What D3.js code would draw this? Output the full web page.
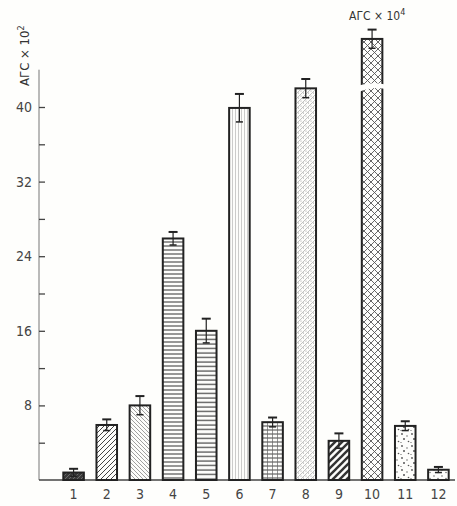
<!DOCTYPE html>
<html>
<head>
<meta charset="utf-8">
<script src="https://cdn.jsdelivr.net/npm/d3@7"></script>
<style>
  body { margin: 0; background: #fefefc; }
  svg { display: block; }
  .tick text { font-family: "DejaVu Sans Condensed", "Liberation Sans Narrow", sans-serif; font-size: 14px; fill: #444; }
  .label { font-family: "DejaVu Sans Condensed", "Liberation Sans Narrow", sans-serif; fill: #333; }
</style>
</head>
<body>
<div id="vis"></div>
<script>
var width = 457;
var height = 506;

// bar numbers, values (x10^2, bar 10 in x10^4) and error estimates
var categories = ['1', '2', '3', '4', '5', '6', '7', '8', '9', '10', '11', '12'];
var values = [0.8, 5.9, 8.0, 25.9, 16.0, 39.9, 6.2, 42.0, 4.2, 47.3, 5.8, 1.1];
var errors = [0.4, 0.6, 1.0, 0.7, 1.3, 1.5, 0.5, 1.0, 0.8, 1.0, 0.5, 0.3];
var majorTicks = [8, 16, 24, 32, 40];
var minorTicks = [4, 12, 20, 28, 36];
var breakValues = [41.6, 42.4]; // gap drawn in bar 10
var axisTop = 44; // y axis runs up to this value

var x = d3.scaleBand().domain(categories).range([57, 455]).paddingInner(0.38).paddingOuter(0.19);
var y = d3.scaleLinear().domain([0, 40]).range([480, 107]);

var svg = d3.select('#vis').append('svg')
    .attr('width', width)
    .attr('height', height);

svg.append('rect').attr('width', width).attr('height', height).attr('fill', '#fefefc');

// hatch patterns, one per bar
var defs = svg.append('defs');

function pattern(id, w, h, draw) {
  var p = defs.append('pattern')
      .attr('id', id)
      .attr('patternUnits', 'userSpaceOnUse')
      .attr('width', w)
      .attr('height', h);
  p.append('rect').attr('width', w).attr('height', h).attr('fill', '#fdfdfb');
  draw(p);
}

function line(p, x1, y1, x2, y2, sw, col) {
  p.append('line').attr('x1', x1).attr('y1', y1).attr('x2', x2).attr('y2', y2)
    .attr('stroke', col || '#333').attr('stroke-width', sw);
}

function dot(p, cx, cy, r, col) {
  p.append('circle').attr('cx', cx).attr('cy', cy).attr('r', r).attr('fill', col || '#555');
}

pattern('p1', 4, 4, function(p) {
  p.select('rect').attr('fill', '#3a3a3a');
  line(p, 0, 4, 4, 0, 0.8, '#777');
});
pattern('p2', 5, 5, function(p) {
  line(p, 0, 5, 5, 0, 1, '#444');
  line(p, -1, 1, 1, -1, 1, '#444');
  line(p, 4, 6, 6, 4, 1, '#444');
});
pattern('p3', 4, 4, function(p) {
  line(p, 0, 0, 4, 4, 0.8, '#888');
  line(p, -1, 3, 1, 5, 0.8, '#888');
  line(p, 3, -1, 5, 1, 0.8, '#888');
});
pattern('p4', 6, 4, function(p) {
  line(p, 0, 2, 6, 2, 1.1, '#444');
});
pattern('p5', 6, 4.5, function(p) {
  line(p, 0, 2, 6, 2, 1.2, '#444');
});
pattern('p6', 3, 6, function(p) {
  line(p, 1.5, 0, 1.5, 6, 0.6, '#aaa');
});
pattern('p7', 5, 4, function(p) {
  line(p, 0, 2, 5, 2, 1, '#444');
  line(p, 2.5, 0, 2.5, 4, 0.7, '#666');
});
pattern('p8', 5, 5, function(p) {
  line(p, 0, 5, 5, 0, 0.6, '#999');
  dot(p, 1, 1, 0.5, '#888');
  dot(p, 3.5, 3, 0.5, '#888');
});
pattern('p9', 7, 7, function(p) {
  line(p, 0, 7, 7, 0, 2.4, '#333');
  line(p, -2, 2, 2, -2, 2.4, '#333');
  line(p, 5, 9, 9, 5, 2.4, '#333');
});
pattern('p10', 7, 7, function(p) {
  line(p, 0, 7, 7, 0, 0.9, '#555');
  line(p, 0, 0, 7, 7, 0.9, '#555');
});
pattern('p11', 10, 12, function(p) {
  dot(p, 2, 2, 0.9);
  dot(p, 7, 4, 0.7);
  dot(p, 4, 7, 1.0);
  dot(p, 8.5, 9.5, 0.8);
  dot(p, 1, 10.5, 0.6);
});
pattern('p12', 8, 6, function(p) {
  dot(p, 2, 2, 0.7);
  dot(p, 6, 4.5, 0.7);
});

// axes
svg.append('line')
    .attr('x1', 39).attr('x2', 39)
    .attr('y1', y(axisTop)).attr('y2', y(0))
    .attr('stroke', '#777').attr('stroke-width', 1);
svg.append('line')
    .attr('x1', 39).attr('x2', 455)
    .attr('y1', y(0)).attr('y2', y(0))
    .attr('stroke', '#444').attr('stroke-width', 1.5);

var yAxis = d3.axisLeft(y).tickValues(majorTicks).tickSize(-6).tickPadding(7);
var gy = svg.append('g').attr('transform', 'translate(39,0)').call(yAxis);
gy.select('.domain').remove();
gy.selectAll('.tick line').attr('stroke', '#444').attr('stroke-width', 1.3);

var yMinor = d3.axisLeft(y).tickValues(minorTicks).tickSize(-6).tickFormat('');
var gm = svg.append('g').attr('transform', 'translate(39,0)').call(yMinor);
gm.select('.domain').remove();
gm.selectAll('.tick line').attr('stroke', '#444').attr('stroke-width', 1.3);

var xAxis = d3.axisBottom(x).tickSize(0).tickPadding(9);
var gx = svg.append('g').attr('transform', 'translate(0,' + y(0) + ')').call(xAxis);
gx.select('.domain').remove();

// bars
var bars = svg.append('g').selectAll('rect')
    .data(values)
    .enter()
    .append('rect')
    .attr('x', function(d, i) { return x(categories[i]); })
    .attr('y', function(d) { return y(d); })
    .attr('width', x.bandwidth())
    .attr('height', function(d) { return y(0) - y(d); })
    .attr('fill', function(d, i) { return 'url(#p' + (i + 1) + ')'; })
    .attr('stroke', '#222')
    .attr('stroke-width', 2);

// break in bar 10
var bx = x('10');
var bw = x.bandwidth();
var yHi = y(breakValues[1]);
var yLo = y(breakValues[0]);
svg.append('path')
    .attr('d', 'M' + (bx - 3) + ',' + (yHi + 1) +
               ' Q' + (bx + bw / 2) + ',' + (yHi - 3) + ' ' + (bx + bw + 3) + ',' + yHi +
               ' L' + (bx + bw + 3) + ',' + (yLo - 3) +
               ' Q' + (bx + bw / 2) + ',' + (yLo - 6) + ' ' + (bx - 3) + ',' + yLo + 'Z')
    .attr('fill', '#fefefc');

// error bars
var err = svg.append('g').selectAll('g')
    .data(values)
    .enter()
    .append('g')
    .attr('stroke', '#222');

err.append('line')
    .attr('x1', function(d, i) { return x(categories[i]) + bw / 2; })
    .attr('x2', function(d, i) { return x(categories[i]) + bw / 2; })
    .attr('y1', function(d, i) { return y(d + errors[i]); })
    .attr('y2', function(d, i) { return y(Math.max(d - errors[i], d / 2)); })
    .attr('stroke-width', 1.2);
err.append('line')
    .attr('x1', function(d, i) { return x(categories[i]) + bw / 2 - 4.5; })
    .attr('x2', function(d, i) { return x(categories[i]) + bw / 2 + 4.5; })
    .attr('y1', function(d, i) { return y(d + errors[i]); })
    .attr('y2', function(d, i) { return y(d + errors[i]); })
    .attr('stroke-width', 2);
err.append('line')
    .attr('x1', function(d, i) { return x(categories[i]) + bw / 2 - 3.5; })
    .attr('x2', function(d, i) { return x(categories[i]) + bw / 2 + 3.5; })
    .attr('y1', function(d, i) { return y(Math.max(d - errors[i], d / 2)); })
    .attr('y2', function(d, i) { return y(Math.max(d - errors[i], d / 2)); })
    .attr('stroke-width', 1.5);

// axis labels
var yl = svg.append('text')
    .attr('class', 'label')
    .attr('transform', 'translate(29, 86)rotate(-90)')
    .attr('font-size', 13);
yl.append('tspan').text('АГС × 10');
yl.append('tspan').attr('dy', -5).attr('font-size', 9).text('2');

var tl = svg.append('text')
    .attr('class', 'label')
    .attr('x', 349).attr('y', 20)
    .attr('font-size', 12);
tl.append('tspan').text('АГС × 10');
tl.append('tspan').attr('dy', -5).attr('font-size', 9).text('4');
</script>
</body>
</html>
